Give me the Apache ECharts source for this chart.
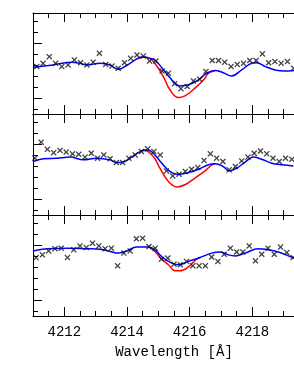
<!DOCTYPE html>
<html><head><meta charset="utf-8">
<script src="https://cdn.jsdelivr.net/npm/echarts@6/dist/echarts.min.js"></script>
<style>html,body{margin:0;padding:0;background:#fff}#c{width:294px;height:375px}</style>
</head><body><div id="c"></div>
<script>
// ---- tick definitions ----
const xTickMajor = [4212, 4214, 4216, 4218];
const xTickMinor = [4211, 4211.5, 4212, 4212.5, 4213, 4213.5, 4214, 4214.5, 4215, 4215.5, 4216, 4216.5, 4217, 4217.5, 4218, 4218.5, 4219, 4219.5, 4220];
const xLabels = [4212, 4214, 4216, 4218];
const yTickMinor = [0.92, 0.94, 0.96, 0.98, 1.00, 1.02, 1.04, 1.06, 1.08];
const yTickMajor = [0.94, 1.04];

// ---- panel 1 ----
const p1Wave = [4211.12,4211.32,4211.52,4211.72,4211.92,4212.12,4212.32,4212.52,4212.72,4212.92,4213.12,4213.32,4213.52,4213.72,4213.92,4214.12,4214.32,4214.52,4214.72,4214.92,4215.12,4215.32,4215.52,4215.72,4215.92,4216.12,4216.32,4216.52,4216.72,4216.92,4217.12,4217.32,4217.52,4217.72,4217.92,4218.12,4218.32,4218.52,4218.72,4218.92,4219.12,4219.32];
const p1Flux = [0.998,1.004,1.016,1.004,0.998,1.001,1.010,1.005,1.001,1.006,1.022,1.002,0.999,0.995,1.005,1.013,1.019,1.017,1.008,1.008,0.990,0.986,0.967,0.958,0.962,0.972,0.975,0.989,1.009,1.009,1.006,0.998,1.002,1.004,1.009,1.009,1.021,1.005,1.007,1.004,1.007,0.995];
const p1BlueWave = [4211.00,4211.64,4212.24,4212.50,4212.72,4213.14,4213.46,4213.72,4213.99,4214.31,4214.52,4214.73,4214.89,4215.21,4215.53,4215.69,4215.96,4216.28,4216.54,4216.81,4217.07,4217.34,4217.66,4217.98,4218.14,4218.41,4218.72,4219.04,4219.33];
const p1BlueFlux = [0.997,1.001,1.006,1.004,1.001,1.004,1.001,0.993,1.000,1.012,1.016,1.013,1.010,0.989,0.968,0.963,0.965,0.974,0.986,0.991,0.987,0.981,0.992,1.004,1.005,0.998,0.992,0.990,0.991];
const p1RedWave = [4214.31,4214.52,4214.73,4214.89,4215.16,4215.37,4215.64,4215.85,4216.17,4216.49,4216.59,4216.81];
const p1RedFlux = [1.012,1.015,1.0125,1.004,0.980,0.956,0.942,0.945,0.959,0.977,0.986,0.991];

// ---- panel 2 ----
const p2Wave = [4211.06,4211.26,4211.46,4211.66,4211.86,4212.06,4212.26,4212.46,4212.66,4212.86,4213.06,4213.26,4213.46,4213.66,4213.86,4214.06,4214.26,4214.46,4214.66,4214.86,4215.06,4215.26,4215.46,4215.66,4215.86,4216.06,4216.26,4216.46,4216.66,4216.86,4217.06,4217.26,4217.46,4217.66,4217.86,4218.06,4218.26,4218.46,4218.66,4218.86,4219.06,4219.26];
const p2Flux = [1.015,1.044,1.031,1.025,1.029,1.026,1.023,1.022,1.017,1.024,1.015,1.021,1.014,1.007,1.007,1.015,1.021,1.027,1.032,1.027,1.021,0.992,0.983,0.986,0.991,0.995,0.998,1.011,1.023,1.015,1.009,0.994,1.000,1.010,1.017,1.024,1.028,1.023,1.015,1.009,1.015,1.013];
const p2BlueWave = [4211.00,4211.33,4211.76,4212.18,4212.61,4213.03,4213.46,4213.67,4213.88,4214.15,4214.42,4214.57,4214.68,4214.84,4215.11,4215.37,4215.59,4215.96,4216.28,4216.60,4216.81,4217.07,4217.26,4217.50,4217.77,4218.03,4218.30,4218.62,4218.94,4219.31];
const p2BlueFlux = [1.009,1.014,1.015,1.017,1.012,1.015,1.012,1.007,1.008,1.017,1.027,1.030,1.030,1.024,1.006,0.991,0.986,0.989,0.995,1.003,1.005,1.000,0.992,0.997,1.008,1.017,1.013,1.006,1.003,1.001];
const p2RedWave = [4214.42,4214.57,4214.84,4215.05,4215.32,4215.59,4215.85,4216.17,4216.49,4216.71,4216.81];
const p2RedFlux = [1.027,1.029,1.018,0.997,0.973,0.963,0.967,0.979,0.992,1.003,1.005];

// ---- panel 3 ----
const p3Wave = [4211.10,4211.30,4211.50,4211.70,4211.90,4212.10,4212.30,4212.50,4212.70,4212.90,4213.10,4213.30,4213.50,4213.70,4213.90,4214.10,4214.30,4214.50,4214.70,4214.90,4215.10,4215.30,4215.50,4215.70,4215.90,4216.10,4216.30,4216.50,4216.70,4216.90,4217.10,4217.30,4217.50,4217.70,4217.90,4218.10,4218.30,4218.50,4218.70,4218.90,4219.10,4219.30];
const p3Flux = [1.018,1.023,1.030,1.034,1.035,1.018,1.032,1.039,1.036,1.044,1.039,1.034,1.035,1.003,1.026,1.030,1.052,1.053,1.038,1.035,1.015,1.017,1.006,1.005,1.011,1.003,1.003,1.003,1.019,1.011,1.024,1.035,1.028,1.028,1.039,1.012,1.024,1.035,1.024,1.037,1.027,1.018];
const p3BlueWave = [4211.00,4211.44,4212.08,4212.71,4213.14,4213.46,4213.72,4213.99,4214.31,4214.57,4214.70,4214.89,4215.16,4215.43,4215.64,4215.96,4216.33,4216.70,4216.97,4217.23,4217.45,4217.77,4218.19,4218.51,4218.83,4219.15,4219.33];
const p3BlueFlux = [1.030,1.034,1.035,1.034,1.033,1.029,1.026,1.030,1.037,1.037,1.037,1.032,1.017,1.008,1.005,1.011,1.018,1.026,1.028,1.023,1.021,1.026,1.034,1.032,1.028,1.021,1.017];
const p3RedWave = [4214.70,4214.89,4215.11,4215.32,4215.53,4215.69,4215.96,4216.20,4216.33];
const p3RedFlux = [1.037,1.029,1.015,1.005,0.994,0.994,1.001,1.014,1.018];

const panels = [
  {mw:p1Wave, mf:p1Flux, bw:p1BlueWave, bf:p1BlueFlux, rw:p1RedWave, rf:p1RedFlux},
  {mw:p2Wave, mf:p2Flux, bw:p2BlueWave, bf:p2BlueFlux, rw:p2RedWave, rf:p2RedFlux},
  {mw:p3Wave, mf:p3Flux, bw:p3BlueWave, bf:p3BlueFlux, rw:p3RedWave, rf:p3RedFlux}
];
const zip = (a, b) => a.map((v, i) => [v, b[i]]);

const tops = [13, 114, 215];
const X_MIN = 4211, X_MAX = 4220, Y_MIN = 0.9122, Y_MAX = 1.0950;
const AX = '#000';
const FONT = '"Liberation Mono", "Courier New", monospace';
const crossPath = 'path://M0,1.5L1.5,0L5,3.5L8.5,0L10,1.5L6.5,5L10,8.5L8.5,10L5,6.5L1.5,10L0,8.5L3.5,5Z';

const grid = [], xAxis = [], yAxis = [], series = [];
tops.forEach((t, i) => {
  grid.push({left:33, width:282, top:t, height:101, outerBoundsMode:'none', containLabel:false});
  const mk = (pos, major, line, extra) => Object.assign({
    gridIndex:i, type:'value', min:X_MIN, max:X_MAX, position:pos,
    axisLine:{show:line, onZero:false, lineStyle:{color:AX, width:1}},
    axisTick:{show:true, inside:true, length: major ? 9 : 5, customValues: major ? xTickMajor : xTickMinor, lineStyle:{color:AX, width:1}},
    axisLabel:{show:false}, splitLine:{show:false}
  }, extra || {});
  const isLast = i === 2;
  xAxis.push(mk('bottom', true, true, isLast ? {
    axisLabel:{show:true, customValues:xLabels, margin:9, color:'#000', fontFamily:FONT, fontSize:14, formatter:v => String(v)},
    name:'Wavelength [Å]', nameLocation:'middle', nameGap:29,
    nameTextStyle:{color:'#000', fontFamily:FONT, fontSize:14}
  } : {}));
  xAxis.push(mk('bottom', false, false));
  xAxis.push(mk('top', true, true));
  xAxis.push(mk('top', false, false));
  const my = (major, line) => ({
    gridIndex:i, type:'value', min:Y_MIN, max:Y_MAX, position:'left',
    axisLine:{show:line, onZero:false, lineStyle:{color:AX, width:1}},
    axisTick:{show:true, inside:true, length: major ? 9 : 5, customValues: major ? yTickMajor : yTickMinor, lineStyle:{color:AX, width:1}},
    axisLabel:{show:false}, splitLine:{show:false}
  });
  yAxis.push(my(true, true));
  yAxis.push(my(false, false));
  const p = panels[i];
  series.push({type:'line', xAxisIndex:4*i, yAxisIndex:2*i, data:zip(p.rw, p.rf), smooth:0.4, showSymbol:false, symbol:'none', lineStyle:{color:'#ff0000', width:1.5}, z:2, silent:true});
  series.push({type:'line', xAxisIndex:4*i, yAxisIndex:2*i, data:zip(p.bw, p.bf), smooth:0.4, showSymbol:false, symbol:'none', lineStyle:{color:'#0000ff', width:1.5}, z:3, silent:true});
  series.push({type:'scatter', xAxisIndex:4*i, yAxisIndex:2*i, data:zip(p.mw, p.mf), symbol:crossPath, symbolSize:6, itemStyle:{color:'#111'}, z:4, silent:true});
});

const chart = echarts.init(document.getElementById('c'), null, {renderer:'canvas'});
chart.setOption({animation:false, backgroundColor:'#fff', grid, xAxis, yAxis, series});
</script>
</body></html>
